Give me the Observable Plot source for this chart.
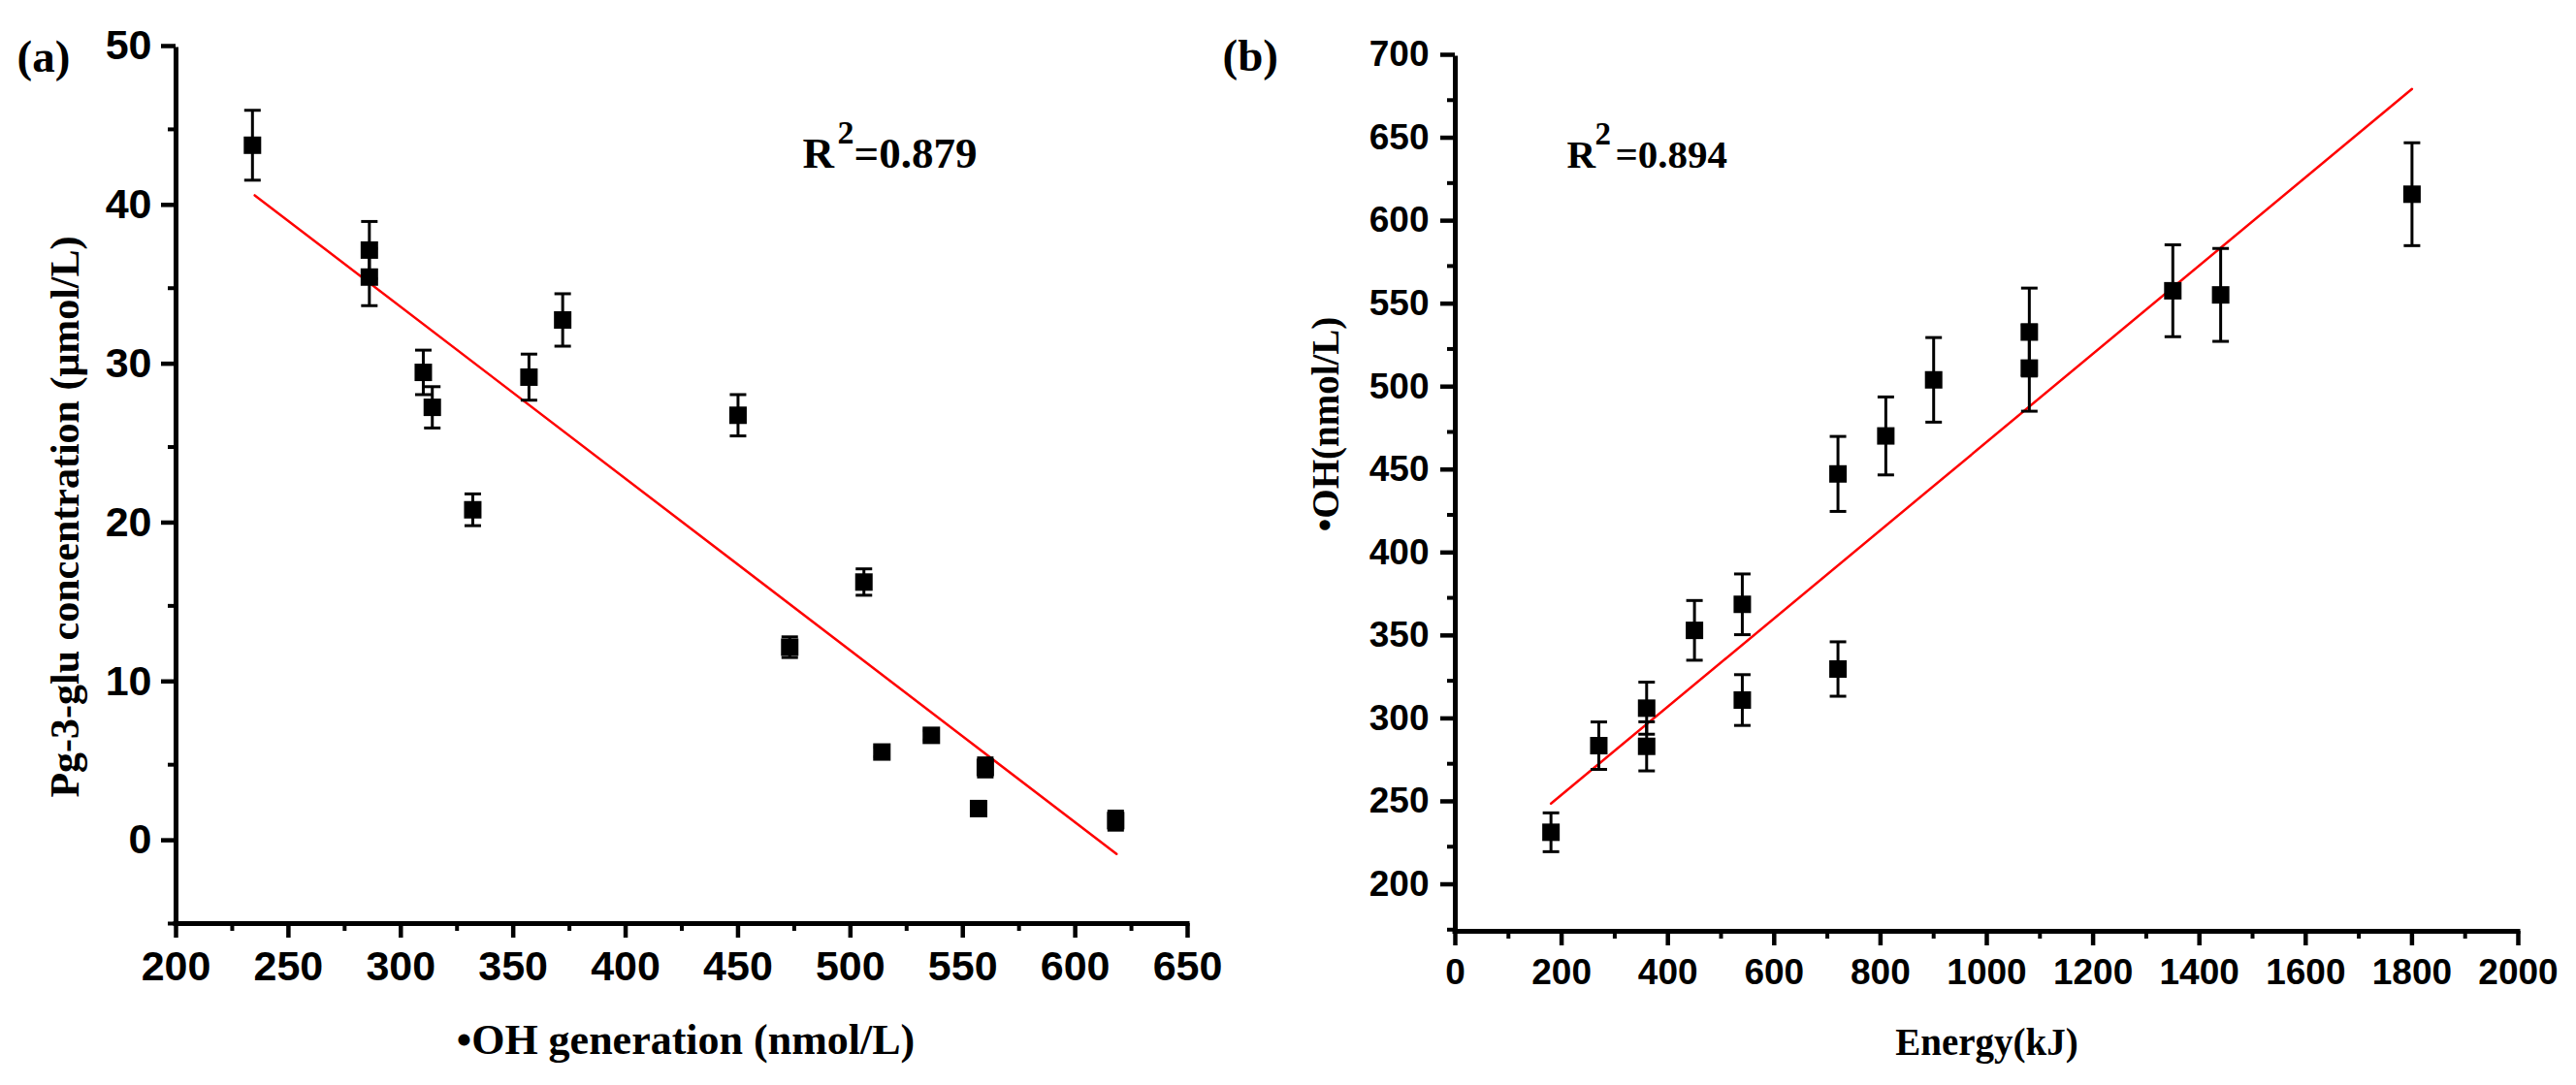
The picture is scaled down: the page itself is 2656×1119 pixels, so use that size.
<!DOCTYPE html>
<html><head><meta charset="utf-8">
<script src="https://cdn.jsdelivr.net/npm/d3@7"></script>
<script src="https://cdn.jsdelivr.net/npm/@observablehq/plot@0.6"></script>
<style>
html,body{margin:0;padding:0;background:#fff;}
#wrap{position:relative;width:2656px;height:1119px;overflow:hidden;background:#fff;}
#pa{position:absolute;left:0;top:0;}
#pb{position:absolute;left:1240px;top:0;}
</style></head><body><div id="wrap"><div id="pa"></div><div id="pb"></div></div>
<script>
// ---------- Panel (a) data ----------
const ohA  = [234, 286, 286, 310, 314, 332, 357, 372, 450, 473, 506, 514, 536, 560, 557, 618];
const pgA  = [44.0, 37.4, 35.7, 29.7, 27.5, 21.05, 29.4, 33.0, 27.0, 12.4, 16.5, 5.8, 6.85, 4.83, 2.24, 1.48];
const errA = [2.2, 1.8, 1.8, 1.4, 1.3, 1.0, 1.45, 1.65, 1.3, 0.65, 0.83, 0.3, 0.3, 0.6, 0.3, 0.6];
const fitAx = [235, 618.4];
const fitAy = [40.85, -0.62];
const xTicksA = [200, 250, 300, 350, 400, 450, 500, 550, 600, 650];
const xMinorA = [225, 275, 325, 375, 425, 475, 525, 575, 625];
const yTicksA = [0, 10, 20, 30, 40, 50];
const yMinorA = [-5, 5, 15, 25, 35, 45];

// ---------- Panel (b) data ----------
const energyB = [180, 270, 360, 360, 450, 540, 540, 720, 720, 810, 900, 1080, 1080, 1350, 1440, 1800];
const ohB     = [233.7, 285.9, 308.5, 285.5, 355.4, 371.1, 313.4, 332.1, 449.7, 472.6, 506.4, 535.2, 513.5, 560.1, 557.6, 618.3];
const errB    = [11.7, 14.3, 15.7, 14.8, 18, 18.3, 15.3, 16.4, 22.6, 23.5, 25.5, 26.5, 26, 27.7, 28, 31];
const fitBx = [180, 1800];
const fitBy = [251, 681.7];
const xTicksB = [0, 200, 400, 600, 800, 1000, 1200, 1400, 1600, 1800, 2000];
const xMinorB = [100, 300, 500, 700, 900, 1100, 1300, 1500, 1700, 1900];
const yTicksB = [200, 250, 300, 350, 400, 450, 500, 550, 600, 650, 700];
const yMinorB = [175, 225, 275, 325, 375, 425, 475, 525, 575, 625, 675];

const SANS = "'Liberation Sans', Arial, sans-serif";
const SERIF = "'Liberation Serif', 'Times New Roman', serif";

const sq = {draw(ctx) { ctx.rect(-9, -9, 18, 18); }};
const cap = {draw(ctx) { ctx.moveTo(-8.5, 0); ctx.lineTo(8.5, 0); }};

function panel(cfg) {
  const pts = cfg.xs.map((x, i) => ({x, y: cfg.ys[i], e: cfg.es[i]}));
  const fit = cfg.fx.map((x, i) => ({x, y: cfg.fy[i]}));
  const fmt = d => String(d);
  const txt = (s, o) => Plot.text([s], Object.assign({frameAnchor: "top-left", textAnchor: "start", lineAnchor: "bottom",
      fontFamily: SERIF, fontWeight: "bold", fill: "black"}, o));
  return Plot.plot({
    width: cfg.width, height: 1119,
    marginLeft: cfg.ml, marginRight: cfg.mr, marginTop: cfg.mt, marginBottom: cfg.mb,
    x: {domain: cfg.xdom, axis: null},
    y: {domain: cfg.ydom, axis: null},
    style: {background: "transparent", color: "black", overflow: "visible"},
    marks: [
      Plot.axisX(cfg.xMinor, {tickSize: 8, strokeWidth: 4, tickFormat: () => "", label: null}),
      Plot.axisX(cfg.xTicks, {tickSize: 15, tickPadding: 13, strokeWidth: 4.5, tickFormat: fmt, label: null,
        fontSize: cfg.tickFont, fontWeight: "bold", fontFamily: SANS}),
      Plot.axisY(cfg.yMinor, {tickSize: 8, strokeWidth: 4, tickFormat: () => "", label: null}),
      Plot.axisY(cfg.yTicks, {tickSize: 15, tickPadding: cfg.yPad, strokeWidth: 4.5, tickFormat: fmt, label: null,
        fontSize: cfg.tickFont, fontWeight: "bold", fontFamily: SANS, dy: -4}),
      Plot.ruleX([cfg.xdom[0]], {stroke: "black", strokeWidth: 5, strokeLinecap: "square"}),
      Plot.ruleY([cfg.ydom[0]], {stroke: "black", strokeWidth: 5, strokeLinecap: "square"}),
      Plot.line(fit, {x: "x", y: "y", stroke: "#ff0000", strokeWidth: 2.5}),
      Plot.ruleX(pts, {x: "x", y1: d => d.y - d.e, y2: d => d.y + d.e, stroke: "black", strokeWidth: 3}),
      Plot.dot(pts, {x: "x", y: d => d.y + d.e, symbol: cap, stroke: "black", fill: "none", strokeWidth: 3}),
      Plot.dot(pts, {x: "x", y: d => d.y - d.e, symbol: cap, stroke: "black", fill: "none", strokeWidth: 3}),
      Plot.dot(pts, {x: "x", y: "y", symbol: sq, fill: "black", stroke: "none"}),
      // axis titles
      Plot.text([cfg.yTitle], {frameAnchor: "left", rotate: -90, textAnchor: "middle", lineAnchor: "middle",
        dx: cfg.yTdx, dy: cfg.yTdy, fontFamily: SERIF, fontWeight: "bold", fontSize: cfg.yTfont, fill: "black"}),
      Plot.text([cfg.xTitle], {frameAnchor: "bottom", textAnchor: "middle", lineAnchor: "bottom",
        dx: cfg.xTdx, dy: cfg.xTdy, fontFamily: SERIF, fontWeight: "bold", fontSize: cfg.xTfont, fill: "black"}),
      // panel letter
      txt(cfg.letter, {dx: cfg.lDx, dy: cfg.lDy, fontSize: 47}),
      // R^2
      txt("R", {dx: cfg.rDx, dy: cfg.rDy, fontSize: cfg.rFont}),
      txt("2", {dx: cfg.sDx, dy: cfg.sDy, fontSize: cfg.sFont}),
      txt(cfg.rVal, {dx: cfg.vDx, dy: cfg.rDy, fontSize: cfg.rFont})
    ]
  });
}

document.getElementById("pa").appendChild(panel({
  xs: ohA, ys: pgA, es: errA, fx: fitAx, fy: fitAy,
  width: 1320, ml: 181, mr: 96, mt: 51, mb: 167,
  xdom: [200, 650], ydom: [-5, 50],
  xTicks: xTicksA, xMinor: xMinorA, yTicks: yTicksA, yMinor: yMinorA,
  tickFont: 43, yPad: 10,
  yTitle: "Pg-3-glu concentration (\u03bcmol/L)", yTdx: -114, yTdy: 31, yTfont: 42,
  xTitle: "\u2022OH generation (nmol/L)", xTdx: 4, xTdy: 134, xTfont: 44,
  letter: "(a)", lDx: -164, lDy: 22,
  rVal: "=0.879", rDx: 646, rDy: 121, rFont: 45, sDx: 682, sDy: 96, sFont: 34, vDx: 699
}));

document.getElementById("pb").appendChild(panel({
  xs: energyB, ys: ohB, es: errB, fx: fitBx, fy: fitBy,
  width: 1416, ml: 260, mr: 60, mt: 60, mb: 159,
  xdom: [0, 2000], ydom: [174, 700],
  xTicks: xTicksB, xMinor: xMinorB, yTicks: yTicksB, yMinor: yMinorB,
  tickFont: 37, yPad: 12,
  yTitle: "\u2022OH(nmol/L)", yTdx: -133, yTdy: -73, yTfont: 39,
  xTitle: "Energy(kJ)", xTdx: 0, xTdy: 127, xTfont: 39,
  letter: "(b)", lDx: -240, lDy: 12,
  rVal: "=0.894", rDx: 115, rDy: 112, rFont: 41, sDx: 144, sDy: 88, sFont: 33, vDx: 165
}));
</script>
</body></html>
